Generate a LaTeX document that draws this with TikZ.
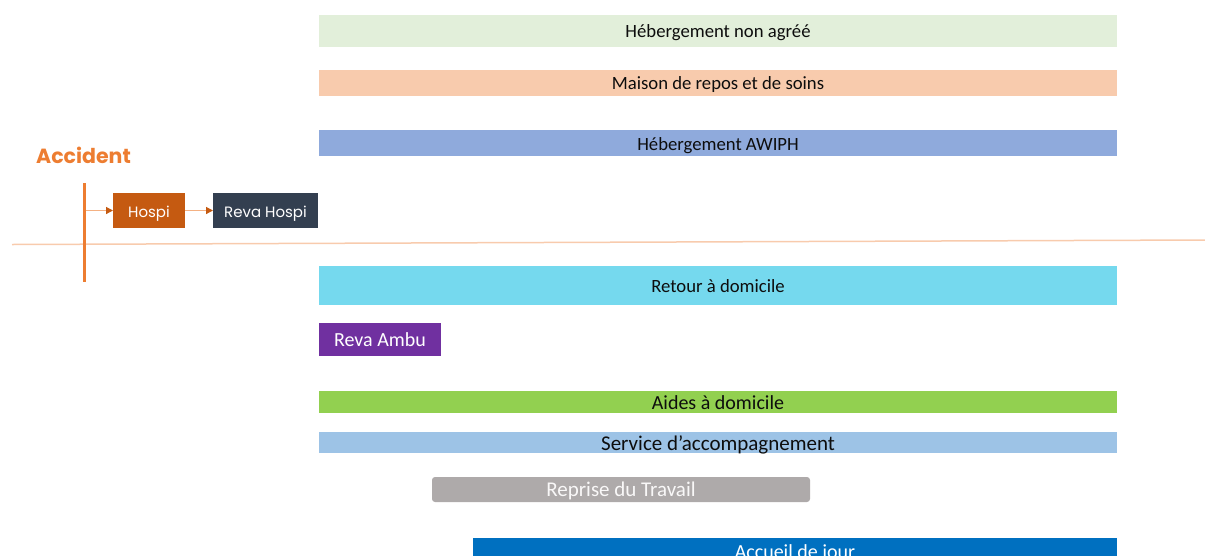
\documentclass[tikz,border=0pt]{standalone}
\usepackage{fontspec}
\setmainfont{Carlito}
\newfontfamily\gothic{Poppins}
\usetikzlibrary{arrows.meta}
\definecolor{cNonAgree}{HTML}{E2EFDA}
\definecolor{cMaison}{HTML}{F8CBAD}
\definecolor{cAwiph}{HTML}{8FAADC}
\definecolor{cRetour}{HTML}{75D9EE}
\definecolor{cAmbu}{HTML}{7030A0}
\definecolor{cAides}{HTML}{92D050}
\definecolor{cService}{HTML}{9DC3E6}
\definecolor{cReprise}{HTML}{AEAAAA}
\definecolor{cAccueil}{HTML}{0070C0}
\definecolor{cHospi}{HTML}{C55A11}
\definecolor{cRevaH}{HTML}{333F50}
\definecolor{cAccident}{HTML}{ED7D31}
\definecolor{cLine}{HTML}{F8CBAD}
\definecolor{cArrow}{HTML}{F4B183}
\definecolor{cText}{HTML}{0D0D0D}
\tikzset{
  bar/.style={anchor=north west, inner sep=0pt, outer sep=0pt, text=cText, text height=14pt, text depth=0pt, font=\fontsize{18.7}{20}\selectfont},
  gbox/.style={anchor=north west, inner sep=0pt, outer sep=0pt, text=white, text height=13.6pt, text depth=0pt, font=\gothic\fontsize{15}{17}\selectfont},
  flow/.style={draw=cArrow, line width=1.2pt, -{Triangle[length=7pt,width=7pt,color=cHospi]}},
}
\begin{document}
\begin{tikzpicture}[x=1pt,y=-1pt]
\useasboundingbox (0,0) rectangle (1205,555);
\clip (0,0) rectangle (1205,555);
% bars
\node[bar, fill=cNonAgree, minimum width=798pt, minimum height=32pt, text height=13.4pt] (nonagree) at (319,15) {Hébergement non agréé};
\node[bar, fill=cMaison, minimum width=798pt, minimum height=26pt, text height=12.8pt] (maison) at (319,70) {Maison de repos et de soins};
\node[bar, fill=cAwiph, minimum width=798pt, minimum height=26pt] (awiph) at (319,130) {Hébergement AWIPH};
\node[bar, fill=cRetour, minimum width=798pt, minimum height=39pt, text height=14.4pt] (retour) at (319,266) {Retour à domicile};
\node[bar, fill=cAmbu, text=white, minimum width=122pt, minimum height=33pt, text height=14.4pt, font=\fontsize{20}{22}\selectfont] (ambu) at (319,323) {Reva Ambu};
\node[bar, fill=cAides, minimum width=798pt, minimum height=22pt, text height=14.6pt, font=\fontsize{20}{22}\selectfont] (aides) at (319,391) {Aides à domicile};
\node[bar, fill=cService, minimum width=798pt, minimum height=21pt, text height=16.2pt, font=\fontsize{21}{23}\selectfont] (service) at (319,432) {Service d’accompagnement};
\node[bar, fill=cReprise, text=white!92!cReprise, rounded corners=3pt, minimum width=378pt, minimum height=25pt, text height=14.4pt, font=\fontsize{21}{23}\selectfont] (reprise) at (432,477) {Reprise du Travail};
\node[bar, fill=cAccueil, text=white, minimum width=644pt, minimum height=26pt, text height=14pt, font=\fontsize{20}{22}\selectfont] (accueil) at (473,538) {Accueil de jour};
% accident part
\draw[cLine, line width=1.5pt] (12,244.5) coordinate (hl) -- (1205,240) coordinate (hr);
\node[anchor=west, inner sep=0pt, text=cAccident, font=\gothic\bfseries\fontsize{20.5}{22}\selectfont] (accident) at (36,155) {Accident};
\coordinate (vtop) at (84,183);
\coordinate (vbot) at (84,282);
\draw[cAccident, line width=3pt] (vtop) -- (vbot);
\node[gbox, fill=cHospi, minimum width=72pt, minimum height=35pt] (hospi) at (113,193) {Hospi};
\node[gbox, fill=cRevaH, minimum width=105pt, minimum height=35pt] (revah) at (213,193) {Reva Hospi};
\coordinate (start) at (85.5,210.5);
\draw[flow] (start) -- (start -| hospi.west);
\draw[flow] (hospi.east) -- (revah.west);
\end{tikzpicture}
\end{document}
